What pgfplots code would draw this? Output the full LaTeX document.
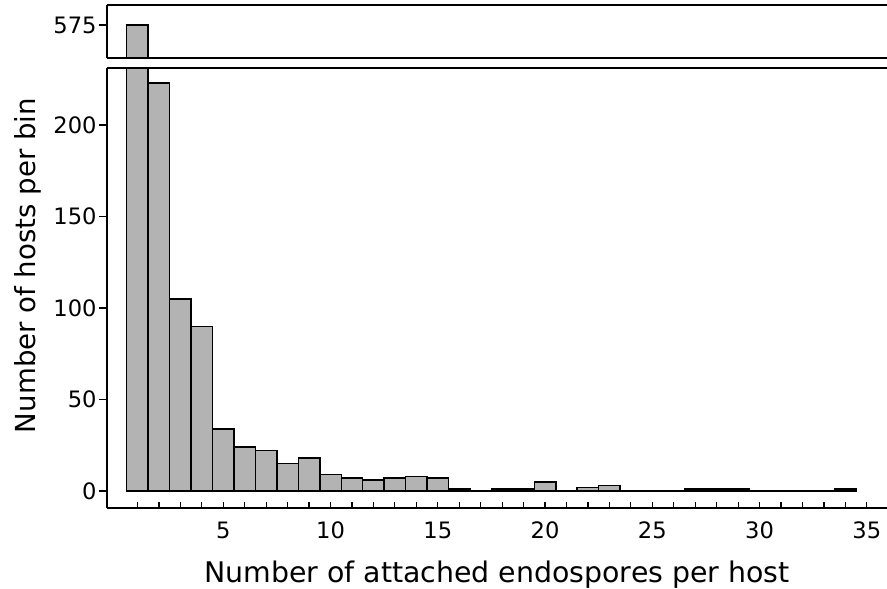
\documentclass[border=0pt]{standalone}
\usepackage{pgfplots}
\pgfplotsset{compat=1.18}
\usepackage{pgfplotstable}
\usetikzlibrary{calc}
\usepackage{fontspec}
\setmainfont{DejaVu Sans}
\definecolor{barfill}{HTML}{B3B3B3}
\pgfplotstableread{
x y
1 575
2 223
3 105
4 90
5 34
6 24
7 22
8 15
9 18
10 9
11 7
12 6
13 7
14 8
15 7
16 1
17 0
18 1
19 1
20 5
21 0
22 2
23 3
24 0
25 0
26 0
27 1
28 1
29 1
30 0
31 0
32 0
33 0
34 1
}\datatable
\begin{document}
\begin{tikzpicture}
\pgfplotsset{
  common/.style={
    scale only axis,
    width=390pt,
    xmin=-0.42, xmax=35.94,
    axis x line=bottom, axis y line=left,
    axis line style={-, line width=0.8pt},
    every tick/.style={black, line width=0.6pt},
    ytick align=outside, major tick length=4pt, minor tick length=2.8pt,
    tick label style={font=\fontsize{11.3}{13}\selectfont},
    yticklabel style={inner xsep=1pt},
    /pgf/number format/assume math mode=true,
    ybar, bar width=1,
    clip=true,
  },
}
\begin{axis}[common, name=bottom,
  height=220pt,
  ymin=-9.3, ymax=231.2,
  ytick={0,50,100,150,200},
  xtick={5,10,...,35},
  minor xtick={1,...,35},
  major x tick style={draw=none},
  xtick align=inside,
  xticklabel style={yshift=-3.5pt},
  xlabel={Number of attached endospores per host},
  xlabel style={font=\fontsize{14.2}{16}\selectfont, yshift=-4pt},
]
\addplot[draw=black, line width=0.75pt, fill=barfill] table[x=x,y=y]{\datatable};
\draw[line width=0.8pt] (rel axis cs:0,1) -- (rel axis cs:1,1);
\end{axis}
\begin{axis}[common, name=top,
  at={(bottom.north west)}, anchor=south west, yshift=5pt,
  height=26.5pt,
  ymin=557, ymax=586,
  ytick={575},
  xtick=\empty,
]
\addplot[draw=black, line width=0.75pt, fill=barfill] table[x=x,y=y]{\datatable};
\draw[line width=0.8pt] (rel axis cs:0,1) -- (rel axis cs:1,1);
\end{axis}
\node[rotate=90, inner sep=0pt, font=\fontsize{13.8}{16}\selectfont] at ($(bottom.south west)!0.5!(top.north west)+(-39.75pt,-4.5pt)$) {Number of hosts per bin};
\pgfresetboundingbox
\path ($(bottom.south west)+(-53.5pt,-40.5pt)$) rectangle ($(top.north east)+(0,2.5pt)$);
\end{tikzpicture}
\end{document}
